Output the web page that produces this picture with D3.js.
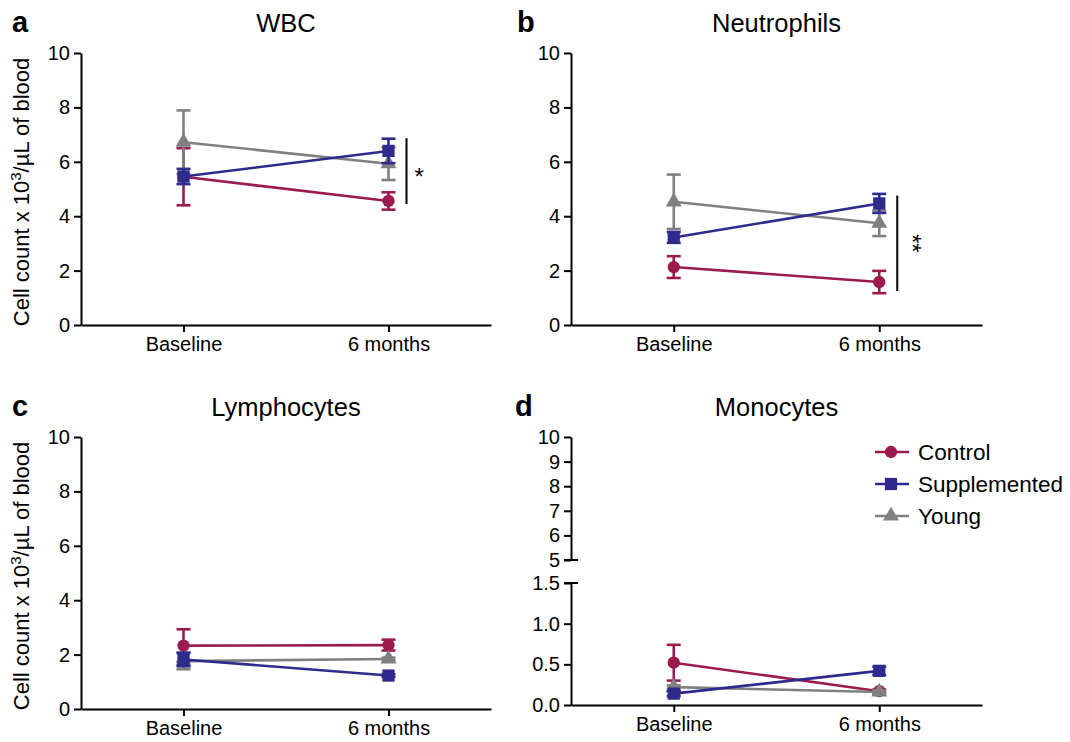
<!DOCTYPE html>
<html><head><meta charset="utf-8">
<script src="https://cdn.jsdelivr.net/npm/d3@7"></script>
<style>
body{margin:0;background:#fff;}
text{font-family:"Liberation Sans",Arial,sans-serif;fill:#000;}
</style></head>
<body>
<svg id="c" width="1070" height="742"></svg>
<script>
const timepoints = ["Baseline", "6 months"];
const groups = ["Control", "Supplemented", "Young"];
const colors = {Control:"#9b1b4f", Supplemented:"#2e2a8e", Young:"#808080"};

const wbcMean = {Control:[5.45,4.56], Supplemented:[5.46,6.40], Young:[6.72,5.93]};
const wbcSem  = {Control:[1.05,0.32], Supplemented:[0.28,0.45], Young:[1.17,0.60]};
const neuMean = {Control:[2.13,1.58], Supplemented:[3.22,4.47], Young:[4.53,3.74]};
const neuSem  = {Control:[0.40,0.41], Supplemented:[0.20,0.35], Young:[1.00,0.47]};
const lymMean = {Control:[2.33,2.35], Supplemented:[1.82,1.23], Young:[1.76,1.84]};
const lymSem  = {Control:[0.60,0.20], Supplemented:[0.25,0.05], Young:[0.30,0.05]};
const monMean = {Control:[0.52,0.17], Supplemented:[0.14,0.42], Young:[0.22,0.16]};
const monSem  = {Control:[0.22,0.02], Supplemented:[0.03,0.05], Young:[0.02,0.02]};

const ticks10 = [0,2,4,6,8,10];
const monUpperTicks = [5,6,7,8,9,10];
const monLowerTicks = [0,0.5,1.0,1.5];

const sigWBC = {top:6.87, bottom:4.45, label:"*"};
const sigNeu = {top:4.76, bottom:1.25, label:"**"};

const svg = d3.select("#c");
const symbols = {Control:d3.symbolCircle, Supplemented:d3.symbolSquare, Young:d3.symbolTriangle};
const symSize = {Control:120, Supplemented:150, Young:110};

function drawSeries(g, x, y, mean, sem){
  const order = ["Control","Young","Supplemented"];
  order.forEach(k=>{
    const pts = timepoints.map((t,i)=>({t, m:mean[k][i], s:sem[k][i]}));
    g.append("path").datum(pts)
      .attr("d", d3.line().x(d=>x(d.t)).y(d=>y(d.m)))
      .attr("fill","none").attr("stroke",colors[k]).attr("stroke-width",2.6);
    pts.forEach(d=>{
      const cx = x(d.t);
      const y0 = y(d.m - d.s), y1 = y(d.m + d.s);
      g.append("line").attr("x1",cx).attr("x2",cx).attr("y1",y0).attr("y2",y1)
        .attr("stroke",colors[k]).attr("stroke-width",2.6);
      [y0,y1].forEach(yy=>g.append("line").attr("x1",cx-7).attr("x2",cx+7).attr("y1",yy).attr("y2",yy)
        .attr("stroke",colors[k]).attr("stroke-width",2.6));
      g.append("path").attr("d", d3.symbol(symbols[k], symSize[k])())
        .attr("transform",`translate(${cx},${y(d.m)})`).attr("fill",colors[k]);
    });
  });
}

function styleAxis(a){
  a.selectAll("path,line").attr("stroke","#000").attr("stroke-width",2);
  a.selectAll("text").style("font-size","20px").attr("fill","#000");
}

function panel(opts){
  const {x0,x1,yTop,yBot,title,letter,letterX,mean,sem,yLabel,sig} = opts;
  const g = svg.append("g");
  const x = d3.scalePoint().domain(timepoints).range([x0,x1]).padding(0.5);
  const y = d3.scaleLinear().domain([0,10]).range([yBot,yTop]);
  const ax = g.append("g").attr("transform",`translate(0,${yBot})`)
    .call(d3.axisBottom(x).tickSize(7).tickSizeOuter(0).tickPadding(5));
  styleAxis(ax);
  const ay = g.append("g").attr("transform",`translate(${x0},0)`)
    .call(d3.axisLeft(y).tickValues(ticks10).tickFormat(d3.format("d")).tickSize(7).tickSizeOuter(0).tickPadding(4));
  styleAxis(ay);
  g.append("text").attr("x",(x0+x1)/2).attr("y",yTop-21).attr("text-anchor","middle")
    .style("font-size","25.5px").text(title);
  g.append("text").attr("x",letterX).attr("y",yTop-21).style("font-size","29px").style("font-weight","bold").text(letter);
  if(yLabel){
    const t = g.append("text").attr("transform",`translate(${x0-52},${(yTop+yBot)/2+3}) rotate(-90)`)
      .attr("text-anchor","middle").style("font-size","22px");
    t.append("tspan").text("Cell count x 10");
    t.append("tspan").attr("baseline-shift","super").style("font-size","15px").text("3");
    t.append("tspan").text("/µL of blood");
  }
  drawSeries(g,x,y,mean,sem);
  if(sig){
    const bx = x(timepoints[1]) + 18;
    g.append("line").attr("x1",bx).attr("x2",bx).attr("y1",y(sig.top)).attr("y2",y(sig.bottom))
      .attr("stroke","#000").attr("stroke-width",2);
    const my = (y(sig.top)+y(sig.bottom))/2;
    if(sig.label.length===1){
      g.append("text").attr("x",bx+8).attr("y",my+14).style("font-size","24px").text(sig.label);
    } else {
      g.append("text").attr("transform",`translate(${bx+7},${my}) rotate(90)`).attr("text-anchor","middle")
        .style("font-size","24px").text(sig.label);
    }
  }
}

panel({x0:81,x1:491,yTop:53,yBot:325,title:"WBC",letter:"a",letterX:12,mean:wbcMean,sem:wbcSem,yLabel:true,sig:sigWBC});
panel({x0:571,x1:982,yTop:53,yBot:325,title:"Neutrophils",letter:"b",letterX:517,mean:neuMean,sem:neuSem,yLabel:false,sig:sigNeu});
panel({x0:81,x1:491,yTop:437,yBot:709,title:"Lymphocytes",letter:"c",letterX:12,mean:lymMean,sem:lymSem,yLabel:true,sig:null});

// Panel d: broken axis
(function(){
  const x0=571,x1=982;
  const g = svg.append("g");
  const x = d3.scalePoint().domain(timepoints).range([x0,x1]).padding(0.5);
  const yLow = d3.scaleLinear().domain([0,1.5]).range([705,583]);
  const yUp = d3.scaleLinear().domain([5,10]).range([560,437]);
  const ax = g.append("g").attr("transform","translate(0,705)")
    .call(d3.axisBottom(x).tickSize(7).tickSizeOuter(0).tickPadding(5));
  styleAxis(ax);
  const a1 = g.append("g").attr("transform",`translate(${x0},0)`)
    .call(d3.axisLeft(yLow).tickValues(monLowerTicks).tickFormat(d3.format(".1f")).tickSize(7).tickSizeOuter(0).tickPadding(4));
  styleAxis(a1);
  const a2 = g.append("g").attr("transform",`translate(${x0},0)`)
    .call(d3.axisLeft(yUp).tickValues(monUpperTicks).tickFormat(d3.format("d")).tickSize(7).tickSizeOuter(0).tickPadding(4));
  styleAxis(a2);
  // break caps
  g.append("line").attr("x1",x0-7).attr("x2",x0+7).attr("y1",yUp(5)).attr("y2",yUp(5)).attr("stroke","#000").attr("stroke-width",2);
  g.append("line").attr("x1",x0-7).attr("x2",x0+7).attr("y1",yLow(1.5)).attr("y2",yLow(1.5)).attr("stroke","#000").attr("stroke-width",2);
  g.append("text").attr("x",(x0+x1)/2).attr("y",437-21).attr("text-anchor","middle").style("font-size","25.5px").text("Monocytes");
  g.append("text").attr("x",515).attr("y",437-21).style("font-size","29px").style("font-weight","bold").text("d");
  drawSeries(g,x,yLow,monMean,monSem);
  // legend
  const lg = g.append("g");
  groups.forEach((k,i)=>{
    const ly = 452 + i*32;
    lg.append("line").attr("x1",875).attr("x2",909).attr("y1",ly).attr("y2",ly).attr("stroke",colors[k]).attr("stroke-width",2.6);
    lg.append("path").attr("d",d3.symbol(symbols[k],symSize[k])()).attr("transform",`translate(891,${ly})`).attr("fill",colors[k]);
    lg.append("text").attr("x",918).attr("y",ly+8).style("font-size","22.5px").text(k);
  });
})();
</script>
</body></html>
